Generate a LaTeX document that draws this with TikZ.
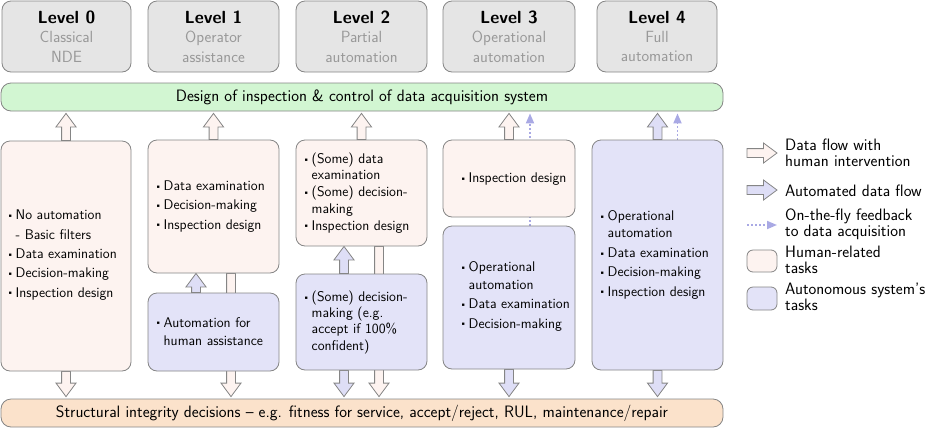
\documentclass[tikz,border=0pt]{standalone}
\usepackage{fontspec}
\renewcommand\familydefault{\sfdefault}
\usepackage{graphicx}
\usetikzlibrary{calc,arrows.meta}
\definecolor{bord}{HTML}{858585}
\definecolor{pinkc}{HTML}{FDF3F0}
\definecolor{bluec}{HTML}{E3E3F8}
\definecolor{bluea}{HTML}{DEDEF6}
\definecolor{hdrc}{HTML}{E5E5E5}
\definecolor{subgray}{HTML}{999999}
\definecolor{greenc}{HTML}{D2F6D2}
\definecolor{orangec}{HTML}{FBE2CB}
\definecolor{dotc}{HTML}{A9A9E4}
\newcommand\bl{\makebox[8.5pt][l]{\raisebox{1.1pt}{\scalebox{0.6}{\textbullet}}}}
\newcommand\contind{\hspace*{8.5pt}}
\newcommand\sublab[1]{{\color{subgray}#1}}
\def\fsw{4.4pt}\def\fhw{10pt}\def\fhl{13.5pt}
% vertical fat arrow from #2 (tail) to #3 (tip)
\newcommand\fatv[3]{%
  \draw[fat,#1] let \p1=#2, \p2=#3, \n1={sign(\y2-\y1)} in
    (\x1-\fsw,\y1) -- (\x1-\fsw,\y2-\n1*\fhl) -- (\x1-\fhw,\y2-\n1*\fhl) -- (\x1,\y2)
    -- (\x1+\fhw,\y2-\n1*\fhl) -- (\x1+\fsw,\y2-\n1*\fhl) -- (\x1+\fsw,\y1) -- cycle;}
% horizontal fat arrow
\newcommand\fath[3]{%
  \draw[fat,#1] let \p1=#2, \p2=#3, \n1={sign(\x2-\x1)} in
    (\x1,\y1-\fsw) -- (\x2-\n1*\fhl,\y1-\fsw) -- (\x2-\n1*\fhl,\y1-\fhw) -- (\x2,\y1)
    -- (\x2-\n1*\fhl,\y1+\fhw) -- (\x2-\n1*\fhl,\y1+\fsw) -- (\x1,\y1+\fsw) -- cycle;}
% box by corners
\newcommand\rbox[6]{\node[#1, minimum width={#4-#2}, minimum height={#5-#3}] (#6) at ({(#2+#4)/2},{(#3+#5)/2}) {};}
\begin{document}
\begin{tikzpicture}[x=1pt,y=-1pt,
  box/.style={draw=bord, line width=0.8pt, rounded corners=9pt, inner sep=0pt},
  human/.style={box, fill=pinkc},
  autob/.style={box, fill=bluec},
  hdr/.style={box, fill=hdrc, align=center, font=\fontsize{16.2}{19.3}\selectfont},
  bar/.style={box, rounded corners=10pt, font=\fontsize{16.5}{19}\selectfont},
  fat/.style={draw=bord, line width=0.8pt, line join=miter},
  pinkarrow/.style={fill=pinkc},
  bluearrow/.style={fill=bluea},
  dotarrow/.style={draw=dotc, line width=1.8pt, dash pattern=on 1.8pt off 2.2pt,
    -{Triangle[width=8pt,length=10pt]}},
  txt/.style={anchor=base west, align=left, inner sep=0pt, font=\fontsize{14}{17}\selectfont},
  txtc/.style={txt, font=\fontsize{14}{16.3}\selectfont},
  legtxt/.style={anchor=base west, align=left, inner sep=0pt, font=\fontsize{16.5}{15.7}\selectfont},
  legbox/.style={draw=bord, line width=0.8pt, rounded corners=6pt, inner sep=0pt}]
\useasboundingbox (0,0) rectangle (932,429);

% bars
\node[bar, fill=greenc, minimum width=722, minimum height=28] (green) at (362,97)
  {Design of inspection \& control of data acquisition system};
\node[bar, fill=orangec, minimum width=722, minimum height=28] (orange) at (362,413)
  {Structural integrity decisions -- e.g. fitness for service, accept/reject, RUL, maintenance/repair};

% headers
\node[hdr, minimum width=129, minimum height=71] (h0) at (66.5,36.5)
  {\textbf{\fontsize{17.6}{19.3}\selectfont Level 0}\\ \sublab{Classical}\\ \sublab{NDE}};
\node[hdr, minimum width=131, minimum height=71] (h1) at (213.5,36.5)
  {\textbf{\fontsize{17.6}{19.3}\selectfont Level 1}\\ \sublab{Operator}\\ \sublab{assistance}};
\node[hdr, minimum width=131, minimum height=71] (h2) at (361.5,36.5)
  {\textbf{\fontsize{17.6}{19.3}\selectfont Level 2}\\ \sublab{Partial}\\ \sublab{automation}};
\node[hdr, minimum width=132, minimum height=71] (h3) at (509,36.5)
  {\textbf{\fontsize{17.6}{19.3}\selectfont Level 3}\\ \sublab{Operational}\\ \sublab{automation}};
\node[hdr, minimum width=120, minimum height=71] (h4) at (657,36.5)
  {\textbf{\fontsize{17.6}{19.3}\selectfont Level 4}\\ \sublab{Full}\\ \sublab{automation}};

% invisible placeholders for the column boxes, so arrows can be drawn beneath them
\rbox{box,draw=none}{1}{141}{131}{371}{l0}
\rbox{box,draw=none}{148}{140}{279}{273}{l1t}
\rbox{box,draw=none}{148}{293}{279}{371}{l1b}
\rbox{box,draw=none}{296}{140}{427}{246}{l2t}
\rbox{box,draw=none}{296}{274}{427}{370}{l2b}
\rbox{box,draw=none}{443}{140}{575}{217}{l3t}
\rbox{box,draw=none}{443}{226}{575}{369}{l3b}
\rbox{box,draw=none}{592}{140}{723}{370}{l4}

\coordinate (a1d) at ([xshift=17.5pt]l1t.south);
\coordinate (a1u) at ([xshift=-17.5pt]l1b.north);
\coordinate (a2d) at ([xshift=17.5pt]l2t.south);
\coordinate (a2u) at ([xshift=-17.5pt]l2b.north);
\coordinate (a2b) at ([xshift=-17.5pt]l2b.south);
\coordinate (f3) at ([xshift=21pt]l3b.north);
\coordinate (f4) at ([xshift=20pt]l4.north);

% long human arrows passing behind automation boxes
\fatv{pinkarrow}{(a1d)}{($(a1d |- orange.north)+(0,-2)$)}
\fatv{pinkarrow}{(a2d)}{($(a2d |- orange.north)+(0,-2)$)}
\draw[dotarrow] (f3) -- ($(f3 |- green.south)+(0,2)$);
\draw[dotarrow] (f4) -- ($(f4 |- green.south)+(0,2)$);

% up arrows to design bar
\fatv{pinkarrow}{(l0.north)}{($(l0.north |- green.south)+(0,2)$)}
\fatv{pinkarrow}{(l1t.north)}{($(l1t.north |- green.south)+(0,2)$)}
\fatv{pinkarrow}{(l2t.north)}{($(l2t.north |- green.south)+(0,2)$)}
\fatv{pinkarrow}{(l3t.north)}{($(l3t.north |- green.south)+(0,2)$)}
\fatv{bluearrow}{(l4.north)}{($(l4.north |- green.south)+(0,2)$)}
% internal automated arrows
\fatv{bluearrow}{(a1u)}{(a1u |- l1t.south)}
\fatv{bluearrow}{(a2u)}{(a2u |- l2t.south)}
% down arrows to decisions bar
\fatv{pinkarrow}{(l0.south)}{($(l0.south |- orange.north)+(0,-2)$)}
\fatv{bluearrow}{(a2b)}{($(a2b |- orange.north)+(0,-2)$)}
\fatv{bluearrow}{(l3b.south)}{($(l3b.south |- orange.north)+(0,-2)$)}
\fatv{bluearrow}{(l4.south)}{($(l4.south |- orange.north)+(0,-2)$)}

% visible boxes
\rbox{human}{1}{141}{131}{371}{b0}
\rbox{human}{148}{140}{279}{273}{b1t}
\rbox{autob}{148}{293}{279}{371}{b1b}
\rbox{human}{296}{140}{427}{246}{b2t}
\rbox{autob}{296}{274}{427}{370}{b2b}
\rbox{human}{443}{140}{575}{217}{b3t}
\rbox{autob}{443}{226}{575}{369}{b3b}
\rbox{autob}{592}{140}{723}{370}{b4}

% box texts (anchored at the baseline of the last line)
\node[txt] (t0) at (7,297) {\bl No automation\\[2.3pt] \contind- Basic filters\\[2.3pt] \bl Data examination\\[2.3pt] \bl Decision-making\\[2.3pt] \bl Inspection design};
\node[txt] (t1t) at (155,229) {\bl Data examination\\[2.3pt] \bl Decision-making\\[2.3pt] \bl Inspection design};
\node[txt] (t1b) at (155,345) {\bl Automation for\\[1pt] \contind human assistance};
\node[txtc] (t2t) at (303,230) {\bl (Some) data\\ \contind examination\\[0.7pt] \bl (Some) decision-\\ \contind making\\[0.7pt] \bl Inspection design};
\node[txtc] (t2b) at (303,350) {\bl (Some) decision-\\ \contind making (e.g.\\ \contind accept if 100\%\\ \contind confident)};
\node[txt] (t3t) at (460,182.5) {\bl Inspection design};
\node[txt] (t3b) at (460,328) {\bl Operational\\[1pt] \contind automation\\[2.3pt] \bl Data examination\\[2.3pt] \bl Decision-making};
\node[txt] (t4) at (599,296) {\bl Operational\\[0pt] \contind automation\\[2.8pt] \bl Data examination\\[2.3pt] \bl Decision-making\\[2.3pt] \bl Inspection design};

% legend
\coordinate (la1s) at (747,153); \coordinate (la1e) at (777,153);
\coordinate (la2s) at (747,190); \coordinate (la2e) at (777,190);
\coordinate (la3s) at (747,225); \coordinate (la3e) at (777,225);
\fath{pinkarrow}{(la1s)}{(la1e)}
\fath{bluearrow}{(la2s)}{(la2e)}
\draw[dotarrow] (la3s) -- (la3e);
\node[legbox, fill=pinkc, minimum width=30, minimum height=22] (lb1) at (762,261) {};
\node[legbox, fill=bluec, minimum width=30, minimum height=23] (lb2) at (762,298.5) {};
\node[legtxt] (lt1) at (785,166.5) {Data flow with\\human intervention};
\node[legtxt] (lt2) at (785,196) {Automated data flow};
\node[legtxt] (lt3) at (785,236.5) {On-the-fly feedback\\to data acquisition};
\node[legtxt] (lt4) at (785,273.5) {Human-related\\tasks};
\node[legtxt] (lt5) at (785,310) {Autonomous system's\\tasks};
\end{tikzpicture}
\end{document}
